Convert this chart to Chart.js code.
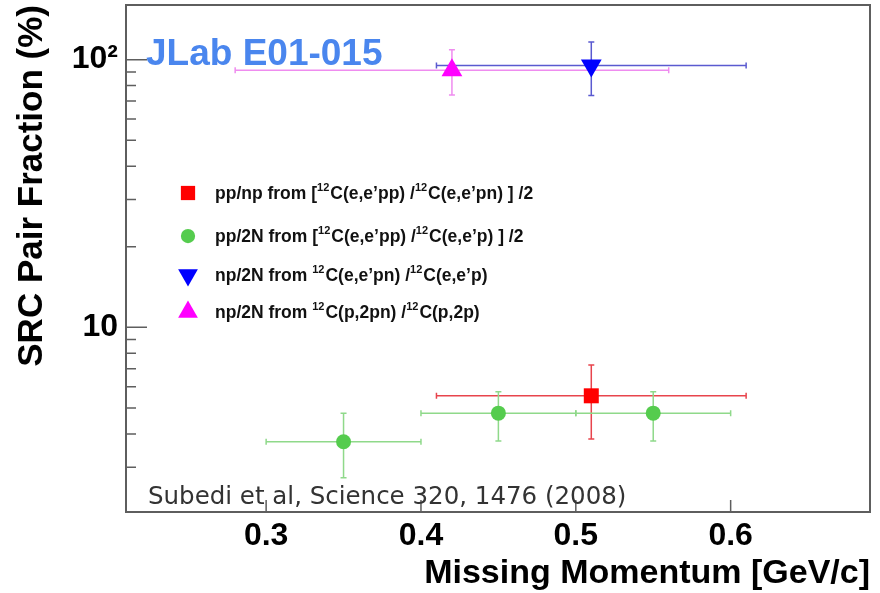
<!DOCTYPE html>
<html><head><meta charset="utf-8">
<script src="https://cdn.jsdelivr.net/npm/chart.js@4.4.1/dist/chart.umd.min.js"></script>
<style>html,body{margin:0;padding:0;background:#fff;}canvas{display:block}</style>
</head><body>
<canvas id="c" width="880" height="593"></canvas>
<script>
// ---- data ----
// pp/np from [12C(e,e'pp)/12C(e,e'pn)]/2
const ppnpX = [0.51];
const ppnpY = [5.55];
const ppnpXErr = [0.10];
const ppnpYLow = [3.83];
const ppnpYHigh = [7.24];
// pp/2N from [12C(e,e'pp)/12C(e,e'p)]/2
const pp2nX = [0.35, 0.45, 0.55];
const pp2nY = [3.74, 4.78, 4.78];
const pp2nXErr = [0.05, 0.05, 0.05];
const pp2nYLow = [2.74, 3.76, 3.76];
const pp2nYHigh = [4.78, 5.75, 5.75];
// np/2N from 12C(e,e'pn)/12C(e,e'p)
const np2nEX = [0.51];
const np2nEY = [95.0];
const np2nEXErr = [0.10];
const np2nEYLow = [73.4];
const np2nEYHigh = [116.5];
// np/2N from 12C(p,2pn)/12C(p,2p)
const np2nPX = [0.42];
const np2nPY = [91.2];
const np2nPXErr = [0.14];
const np2nPYLow = [73.8];
const np2nPYHigh = [109.0];

const seriesLabels = [
  "pp/np from [^{12}C(e,e\u2019pp) /^{12}C(e,e\u2019pn) ] /2",
  "pp/2N from [^{12}C(e,e\u2019pp) /^{12}C(e,e\u2019p) ] /2",
  "np/2N from ^{12}C(e,e\u2019pn) /^{12}C(e,e\u2019p)",
  "np/2N from ^{12}C(p,2pn) /^{12}C(p,2p)"
];
const xTickValues = [0.3, 0.4, 0.5, 0.6];
const yMajorTicks = [10, 100];
const yMinorTicks = [3, 4, 5, 6, 7, 8, 9, 20, 30, 40, 50, 60, 70, 80, 90];
const xRange = [0.2095, 0.690];
const yRange = [2.043, 160];

function pts(xs, ys, xe, yl, yh) {
  return xs.map((x, i) => ({x: x, y: ys[i], xe: xe[i], yl: yl[i], yh: yh[i]}));
}

const datasets = [
  {label: seriesLabels[0], data: pts(ppnpX, ppnpY, ppnpXErr, ppnpYLow, ppnpYHigh),
   pointStyle: 'rect', pointRadius: 10.6, backgroundColor: '#ff0000', borderColor: '#ff0000', borderWidth: 0, errColor: '#e8444c'},
  {label: seriesLabels[1], data: pts(pp2nX, pp2nY, pp2nXErr, pp2nYLow, pp2nYHigh),
   pointStyle: 'circle', pointRadius: 7.5, backgroundColor: '#55cc4e', borderColor: '#55cc4e', borderWidth: 0, errColor: '#8fd98a'},
  {label: seriesLabels[2], data: pts(np2nEX, np2nEY, np2nEXErr, np2nEYLow, np2nEYHigh),
   pointStyle: 'triangle', rotation: 180, pointRadius: 12, backgroundColor: '#0000ff', borderColor: '#0000ff', borderWidth: 0, errColor: '#5a5ad0'},
  {label: seriesLabels[3], data: pts(np2nPX, np2nPY, np2nPXErr, np2nPYLow, np2nPYHigh),
   pointStyle: 'triangle', pointRadius: 12, backgroundColor: '#ff00ff', borderColor: '#ff00ff', borderWidth: 0, errColor: '#ef8cef'}
];

const errorBars = {
  id: 'errorBars',
  beforeDatasetsDraw(chart) {
    const {ctx, chartArea: a, scales: {x, y}} = chart;
    ctx.save();
    ctx.beginPath(); ctx.rect(a.left, a.top, a.right - a.left, a.bottom - a.top); ctx.clip();
    ctx.lineWidth = 1.5;
    chart.data.datasets.forEach(ds => {
      ctx.strokeStyle = ds.errColor;
      ds.data.forEach(p => {
        const px = x.getPixelForValue(p.x), py = y.getPixelForValue(p.y);
        const x1 = x.getPixelForValue(p.x - p.xe), x2 = x.getPixelForValue(p.x + p.xe);
        const y1 = y.getPixelForValue(p.yh), y2 = y.getPixelForValue(p.yl);
        ctx.beginPath();
        ctx.moveTo(x1, py); ctx.lineTo(x2, py);
        ctx.moveTo(px, y1); ctx.lineTo(px, y2);
        ctx.moveTo(x1, py - 3); ctx.lineTo(x1, py + 3);
        ctx.moveTo(x2, py - 3); ctx.lineTo(x2, py + 3);
        ctx.moveTo(px - 3, y1); ctx.lineTo(px + 3, y1);
        ctx.moveTo(px - 3, y2); ctx.lineTo(px + 3, y2);
        ctx.stroke();
      });
    });
    ctx.restore();
  }
};

const frameAndTicks = {
  id: 'frameAndTicks',
  afterDraw(chart) {
    const {ctx, chartArea: a, scales: {x, y}} = chart;
    ctx.save();
    ctx.strokeStyle = '#5e5e5e';
    ctx.lineWidth = 1.5;
    ctx.beginPath();
    yMajorTicks.forEach(v => { const py = y.getPixelForValue(v); ctx.moveTo(a.left, py); ctx.lineTo(a.left + 21, py); });
    yMinorTicks.forEach(v => { const py = y.getPixelForValue(v); ctx.moveTo(a.left, py); ctx.lineTo(a.left + 10, py); });
    xTickValues.forEach(v => { const px = x.getPixelForValue(v); ctx.moveTo(px, a.bottom); ctx.lineTo(px, a.bottom - 12); });
    ctx.stroke();
    ctx.lineWidth = 2;
    ctx.strokeRect(a.left, a.top, a.right - a.left, a.bottom - a.top);
    ctx.restore();
  }
};

function drawRich(ctx, str, x, y, size) {
  const parts = str.split(/(\^\{[^}]*\})/);
  let cx = x;
  parts.forEach(part => {
    if (!part) return;
    if (part.startsWith('^{')) {
      const t = part.slice(2, -1);
      ctx.font = 'bold ' + Math.round(size * 0.62) + 'px "Liberation Sans", Arial, sans-serif';
      ctx.fillText(t, cx, y - size * 0.45);
      cx += ctx.measureText(t).width + 1;
    } else {
      ctx.font = 'bold ' + size + 'px "Liberation Sans", Arial, sans-serif';
      ctx.fillText(part, cx, y);
      cx += ctx.measureText(part).width;
    }
  });
}

const annotations = {
  id: 'annotations',
  afterDraw(chart) {
    const {ctx} = chart;
    ctx.save();
    const rowsY = [193, 236, 275, 312];
    chart.data.datasets.forEach((ds, i) => {
      ctx.fillStyle = ds.backgroundColor;
      ctx.strokeStyle = ds.borderColor;
      Chart.helpers.drawPoint(ctx, {pointStyle: ds.pointStyle, radius: ds.pointRadius * 0.95, rotation: ds.rotation || 0, borderWidth: 0}, 188, rowsY[i]);
      ctx.fillStyle = '#111';
      ctx.textBaseline = 'alphabetic';
      drawRich(ctx, ds.label, 215, rowsY[i] + 6, 17.5);
    });
    ctx.fillStyle = '#4a86ee';
    ctx.font = 'bold 37px "Liberation Sans", Arial, sans-serif';
    ctx.fillText('JLab E01-015', 146, 65);
    ctx.fillStyle = '#333';
    ctx.font = '24.5px "DejaVu Sans", sans-serif';
    ctx.fillText('Subedi et al, Science 320, 1476 (2008)', 148, 504);
    ctx.restore();
  }
};

const tickFont = {family: '"Liberation Sans", Arial, sans-serif', size: 32, weight: 'bold'};
const titleFont = {family: '"Liberation Sans", Arial, sans-serif', size: 34, weight: 'bold', lineHeight: 1};
const yTitleFont = {family: '"Liberation Sans", Arial, sans-serif', size: 35, weight: 'bold', lineHeight: 1};

function zeroPad(s) {
  s.paddingTop = 0; s.paddingBottom = 0; s.paddingLeft = 0; s.paddingRight = 0;
}

new Chart(document.getElementById('c'), {
  type: 'scatter',
  data: {datasets: datasets},
  options: {
    responsive: false, animation: false, devicePixelRatio: 1,
    layout: {autoPadding: false, padding: {top: 5, right: 10, left: 0, bottom: 0}},
    plugins: {legend: {display: false}, tooltip: {enabled: false}},
    scales: {
      x: {
        type: 'linear', min: xRange[0], max: xRange[1],
        grid: {display: false, drawTicks: false}, border: {display: false},
        afterBuildTicks: s => { s.ticks = xTickValues.map(v => ({value: v})); },
        afterFit: s => { s.height = 81; zeroPad(s); },
        ticks: {color: '#000', font: tickFont, padding: 5, callback: v => Number(v).toFixed(1), maxRotation: 0, autoSkip: false},
        title: {display: true, text: 'Missing Momentum [GeV/c]', align: 'end', color: '#000', font: titleFont, padding: {top: 0, bottom: 2}}
      },
      y: {
        type: 'logarithmic', min: yRange[0], max: yRange[1],
        grid: {display: false, drawTicks: false}, border: {display: false},
        afterBuildTicks: s => { s.ticks = yMajorTicks.map(v => ({value: v})); },
        afterFit: s => { s.width = 126; zeroPad(s); },
        ticks: {color: '#000', font: tickFont, padding: 8, callback: v => (v === 100 ? '10\u00B2' : String(v)), autoSkip: false},
        title: {display: true, text: 'SRC Pair Fraction (%)', align: 'end', color: '#000', font: yTitleFont, padding: {top: 15, bottom: 0}}
      }
    }
  },
  plugins: [errorBars, frameAndTicks, annotations]
});
</script>
</body></html>
